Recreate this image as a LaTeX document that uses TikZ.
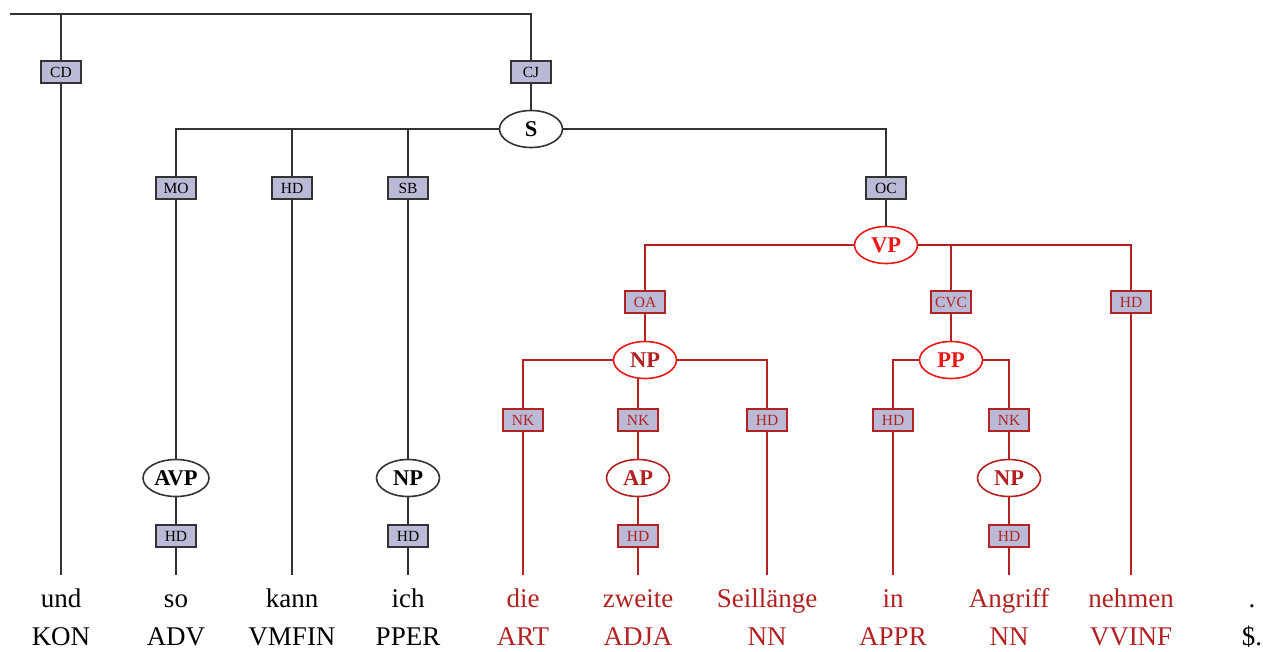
\documentclass[tikz,border=0pt]{standalone}
\usepackage{fontspec}
\setmainfont{Liberation Serif}
\usetikzlibrary{shapes.geometric}
\definecolor{lab}{RGB}{186,186,214}
\definecolor{dred}{RGB}{178,34,34}
\definecolor{bred}{RGB}{236,24,24}
\definecolor{ink}{RGB}{51,51,51}

\begin{document}
\begin{tikzpicture}[x=1pt,y=-1pt]
	\tikzstyle{fn}=[rectangle,draw=ink,fill=lab,line width=1.8pt,minimum width=40pt,minimum height=22pt,inner xsep=4pt,inner ysep=0pt,font=\fontsize{15.5}{15.5}\selectfont]
	\tikzstyle{redfn}=[draw=dred,text=dred]
	\tikzstyle{cat}=[ellipse,draw=ink,fill=white,line width=1.6pt,minimum width=63pt,minimum height=37pt,inner sep=0pt,font=\fontsize{22.5}{22.5}\selectfont\bfseries]
	\tikzstyle{redcat}=[draw=bred,text=bred]
	\tikzstyle{darkcat}=[draw=dred,text=dred]
	\tikzstyle{word}=[anchor=base,text height=20pt,inner ysep=12pt,inner xsep=0pt,font=\fontsize{27}{27}\selectfont]
	\tikzstyle{tag}=[anchor=base,inner sep=0pt,font=\fontsize{27}{27}\selectfont]
	\tikzstyle{arc}=[line width=1.6pt,draw=ink]
	\tikzstyle{redarc}=[line width=1.6pt,draw=dred]
	\useasboundingbox (0,0) rectangle (1263,651);
	% nodes of the tree
	\coordinate (top) at (10,14);
	\node (cd) at (61,72) [fn] {CD};
	\node (cj) at (531,72) [fn] {CJ};
	\node (s) at (531,129) [cat] {S};
	\node (mo) at (176,188) [fn] {MO};
	\node (hdkann) at (292,188) [fn] {HD};
	\node (sb) at (408,188) [fn] {SB};
	\node (oc) at (886,188) [fn] {OC};
	\node (avp) at (176,478) [cat,minimum width=66pt] {AVP};
	\node (hdso) at (176,536) [fn] {HD};
	\node (npich) at (408,478) [cat] {NP};
	\node (hdich) at (408,536) [fn] {HD};
	\node (vp) at (886,245) [cat,redcat] {VP};
	\node (oa) at (645,302) [fn,redfn] {OA};
	\node (cvc) at (951,302) [fn,redfn] {CVC};
	\node (hdnehmen) at (1131,302) [fn,redfn] {HD};
	\node (npobj) at (645,360) [cat,redcat,text=dred] {NP};
	\node (nkdie) at (523,420) [fn,redfn] {NK};
	\node (nkzweite) at (638,420) [fn,redfn] {NK};
	\node (hdseil) at (767,420) [fn,redfn] {HD};
	\node (ap) at (638,478) [cat,darkcat] {AP};
	\node (hdzweite) at (638,536) [fn,redfn] {HD};
	\node (pp) at (951,360) [cat,redcat] {PP};
	\node (hdin) at (893,420) [fn,redfn] {HD};
	\node (nkangriff) at (1009,420) [fn,redfn] {NK};
	\node (npangriff) at (1009,478) [cat,darkcat] {NP};
	\node (hdangriff) at (1009,536) [fn,redfn] {HD};
	% words
	\node (und) at (61,607) [word] {und};
	\node (so) at (176,607) [word] {so};
	\node (kann) at (292,607) [word] {kann};
	\node (ich) at (408,607) [word] {ich};
	\node (die) at (523,607) [word,text=dred] {die};
	\node (zweite) at (638,607) [word,text=dred] {zweite};
	\node (seil) at (767,607) [word,text=dred] {Seillänge};
	\node (in) at (893,607) [word,text=dred] {in};
	\node (angriff) at (1009,607) [word,text=dred] {Angriff};
	\node (nehmen) at (1131,607) [word,text=dred] {nehmen};
	\node (punct) at (1252,607) [word] {.};
	% tags
	\node (kon) at (61,645) [tag] {KON};
	\node (adv) at (176,645) [tag] {ADV};
	\node (vmfin) at (292,645) [tag] {VMFIN};
	\node (pper) at (408,645) [tag] {PPER};
	\node (art) at (523,645) [tag,text=dred] {ART};
	\node (adja) at (638,645) [tag,text=dred] {ADJA};
	\node (nn1) at (767,645) [tag,text=dred] {NN};
	\node (appr) at (893,645) [tag,text=dred] {APPR};
	\node (nn2) at (1009,645) [tag,text=dred] {NN};
	\node (vvinf) at (1131,645) [tag,text=dred] {VVINF};
	\node (dollar) at (1252,645) [tag] {\$.};
	% black edges
	\draw [arc] (top) -| (cj);
	\draw [arc] (cd) |- (top);
	\draw [arc] (cd) -- (und);
	\draw [arc] (cj) -- (s);
	\draw [arc] (s) -| (mo);
	\draw [arc] (s) -| (hdkann);
	\draw [arc] (s) -| (sb);
	\draw [arc] (s) -| (oc);
	\draw [arc] (mo) -- (avp);
	\draw [arc] (avp) -- (hdso);
	\draw [arc] (hdso) -- (so);
	\draw [arc] (hdkann) -- (kann);
	\draw [arc] (sb) -- (npich);
	\draw [arc] (npich) -- (hdich);
	\draw [arc] (hdich) -- (ich);
	\draw [arc] (oc) -- (vp);
	% red edges
	\draw [redarc] (vp) -| (oa);
	\draw [redarc] (vp) -| (cvc);
	\draw [redarc] (vp) -| (hdnehmen);
	\draw [redarc] (oa) -- (npobj);
	\draw [redarc] (npobj) -| (nkdie);
	\draw [redarc] (nkzweite) -- (nkzweite |- npobj.south);
	\draw [redarc] (npobj) -| (hdseil);
	\draw [redarc] (nkdie) -- (die);
	\draw [redarc] (nkzweite) -- (ap);
	\draw [redarc] (ap) -- (hdzweite);
	\draw [redarc] (hdzweite) -- (zweite);
	\draw [redarc] (hdseil) -- (seil);
	\draw [redarc] (cvc) -- (pp);
	\draw [redarc] (pp) -| (hdin);
	\draw [redarc] (pp) -| (nkangriff);
	\draw [redarc] (hdin) -- (in);
	\draw [redarc] (nkangriff) -- (npangriff);
	\draw [redarc] (npangriff) -- (hdangriff);
	\draw [redarc] (hdangriff) -- (angriff);
	\draw [redarc] (hdnehmen) -- (nehmen);
\end{tikzpicture}
\end{document}
